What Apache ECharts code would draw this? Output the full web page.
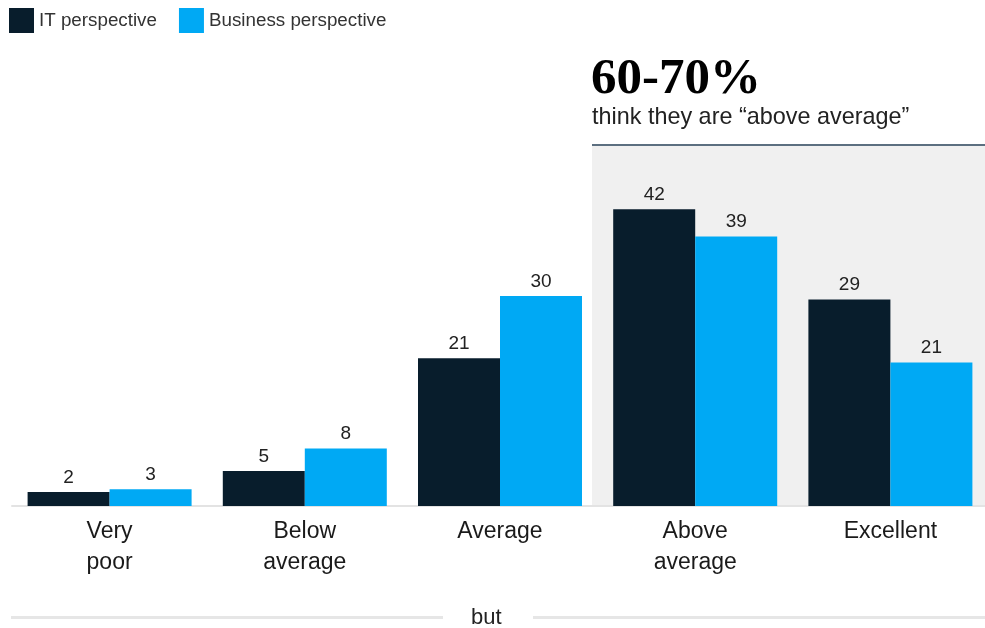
<!DOCTYPE html>
<html>
<head>
<meta charset="utf-8">
<script src="https://cdn.jsdelivr.net/npm/echarts@6/dist/echarts.min.js"></script>
<style>html,body{margin:0;padding:0;background:#fff;}#c{width:985px;height:628px;}</style>
</head>
<body>
<div id="c"></div>
<script>
const categories = ['Very\npoor', 'Below\naverage', 'Average', 'Above\naverage', 'Excellent'];
// bar heights
const itValues = [2.0, 5.0, 21.1, 42.4, 29.5];
const businessValues = [2.4, 8.2, 30.0, 38.5, 20.5];
// printed value labels
const itLabels = ['2', '5', '21', '42', '29'];
const businessLabels = ['3', '8', '30', '39', '21'];
const seriesNames = ['IT perspective', 'Business perspective'];
const headline = '60-70%';
const subline = 'think they are \u201cabove average\u201d';
const footer = 'but';

const SANS = '"Liberation Sans", Arial, sans-serif';
const chart = echarts.init(document.getElementById('c'), null, {renderer: 'canvas'});
const labelCfg = (arr) => ({show: true, position: 'top', distance: 5, color: '#222', fontSize: 19, fontFamily: SANS,
  formatter: p => arr[p.dataIndex]});

chart.setOption({
  animation: false,
  backgroundColor: '#fff',
  legend: {
    left: 4, top: 3, itemWidth: 25, itemHeight: 25, itemGap: 22,
    icon: 'rect',
    textStyle: {fontSize: 18.8, color: '#333', fontFamily: SANS},
    data: seriesNames
  },
  grid: {left: 12, width: 976, top: 156, bottom: 122, containLabel: false, outerBoundsMode: 'none'},
  xAxis: {
    type: 'category', data: categories,
    axisLine: {lineStyle: {color: '#e3e3e3', width: 2}},
    axisTick: {show: false},
    axisLabel: {fontSize: 23, color: '#1a1a1a', fontFamily: SANS, lineHeight: 31, margin: 10}
  },
  yAxis: {type: 'value', min: 0, max: 50, show: false, splitLine: {show: false}},
  graphic: [
    {type: 'rect', z: -10, left: 592, top: 145, shape: {width: 393, height: 361}, style: {fill: '#f0f0f0'}},
    {type: 'rect', z: -9, left: 592, top: 144, shape: {width: 393, height: 2}, style: {fill: '#5c6f80'}},
    {type: 'text', left: 591, top: 54, style: {text: headline, font: 'bold 51px "Liberation Serif", "DejaVu Serif", serif', fill: '#000'}},
    {type: 'text', left: 592, top: 106, style: {text: subline, font: '23.4px ' + SANS, fill: '#222'}},
    {type: 'rect', left: 11, top: 616, shape: {width: 432, height: 3}, style: {fill: '#e6e6e6'}},
    {type: 'rect', left: 533, top: 616, shape: {width: 452, height: 3}, style: {fill: '#e6e6e6'}},
    {type: 'text', left: 471, top: 607, style: {text: footer, font: '22px ' + SANS, fill: '#222'}}
  ],
  series: [
    {name: seriesNames[0], type: 'bar', data: itValues, barWidth: 82, barGap: '0%',
     itemStyle: {color: '#081d2c'}, label: labelCfg(itLabels)},
    {name: seriesNames[1], type: 'bar', data: businessValues, barWidth: 82, barGap: '0%',
     itemStyle: {color: '#00a9f4'}, label: labelCfg(businessLabels)}
  ]
});
</script>
</body>
</html>
